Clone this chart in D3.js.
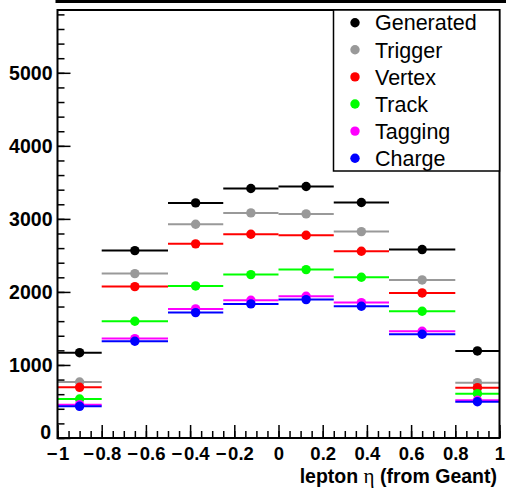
<!DOCTYPE html>
<html>
<head>
<meta charset="utf-8">
<script src="https://cdn.jsdelivr.net/npm/d3@7"></script>
<style>
  body { margin: 0; background: #fff; }
  svg { display: block; font-family: 'Liberation Sans', Arial, sans-serif; }
</style>
</head>
<body>
<svg id="chart" width="506" height="489"></svg>
<script>
// bin edges in lepton eta, and counts per bin for each selection step
const etaEdges = [-1, -0.8, -0.5, -0.25, 0, 0.25, 0.5, 0.8, 1]
const generated = [1168, 2566, 3219, 3416, 3443, 3224, 2580, 1192]
const trigger = [767, 2251, 2927, 3082, 3068, 2826, 2164, 758]
const vertex = [694, 2073, 2658, 2790, 2776, 2557, 1986, 689]
const track = [534, 1598, 2082, 2237, 2306, 2201, 1735, 607]
const tagging = [456, 1361, 1767, 1886, 1941, 1854, 1461, 516]
const charge = [434, 1324, 1717, 1836, 1895, 1804, 1420, 497]

const seriesNames = ['Generated', 'Trigger', 'Vertex', 'Track', 'Tagging', 'Charge']
const seriesColors = ['#000000', '#999999', '#ff0000', '#00ff00', '#ff00ff', '#0000ff']

const xTicks = [-1, -0.8, -0.6, -0.4, -0.2, 0, 0.2, 0.4, 0.6, 0.8, 1]
const yTicks = [0, 1000, 2000, 3000, 4000, 5000]

const series = [generated, trigger, vertex, track, tagging, charge]

const frame = { left: 57.5, right: 499.5, top: 10, bottom: 438 }

const x = d3.scaleLinear().domain([-1, 1]).range([frame.left, frame.right])
const y = d3.scaleLinear().domain([0, 5860]).range([frame.bottom, frame.top])

const svg = d3.select('#chart')

// bottom edge of the title box above the pad
svg
  .append('rect')
  .attr('x', 57)
  .attr('y', -40)
  .attr('width', 470)
  .attr('height', 41.5)
  .attr('fill', 'none')
  .attr('stroke', '#000')
  .attr('stroke-width', 3)

// histograms: horizontal bin-width bars plus markers at bin centre
series.forEach((vals, s) => {
  const g = svg.append('g')
  const bins = vals.map((v, i) => ({ lo: etaEdges[i], hi: etaEdges[i + 1], v }))
  g.selectAll('line')
    .data(bins)
    .join('line')
    .attr('x1', (d) => x(d.lo))
    .attr('x2', (d) => x(d.hi))
    .attr('y1', (d) => y(d.v))
    .attr('y2', (d) => y(d.v))
    .attr('stroke', seriesColors[s])
    .attr('stroke-width', 2)
  g.selectAll('circle')
    .data(bins)
    .join('circle')
    .attr('cx', (d) => x((d.lo + d.hi) / 2))
    .attr('cy', (d) => y(d.v))
    .attr('r', 4.7)
    .attr('fill', seriesColors[s])
})

// minor ticks
const xMinor = d3.range(0, 41).map((i) => -1 + i * 0.05)
const yMinor = d3.range(0, 30).map((i) => i * 200)

svg
  .append('g')
  .attr('transform', `translate(0,${frame.bottom})`)
  .call(d3.axisBottom(x).tickValues(xMinor).tickSize(-7).tickSizeOuter(0).tickFormat(''))
  .call((g) => g.select('.domain').remove())
  .selectAll('line')
  .attr('stroke-width', 1.5)

svg
  .append('g')
  .attr('transform', `translate(${frame.left},0)`)
  .call(d3.axisLeft(y).tickValues(yMinor).tickSize(-7).tickSizeOuter(0).tickFormat(''))
  .call((g) => g.select('.domain').remove())
  .selectAll('line')
  .attr('stroke-width', 1.5)

// major ticks + labels (ROOT style wide minus)
const fmtX = (d) => (d < 0 ? '\u2212\u200A' + d3.format('')(-d) : d3.format('')(d))
const xAxis = svg
  .append('g')
  .attr('transform', `translate(0,${frame.bottom})`)
  .call(d3.axisBottom(x).tickValues(xTicks).tickSize(-13).tickSizeOuter(0).tickPadding(8.5).tickFormat(fmtX))
xAxis.select('.domain').remove()
xAxis.selectAll('line').attr('stroke-width', 1.5)
xAxis.selectAll('text').attr('font-size', 18.5).attr('font-weight', 'bold').attr('fill', '#000')
  .attr('font-family', "'Liberation Sans', Arial, sans-serif")

const yAxis = svg
  .append('g')
  .attr('transform', `translate(${frame.left},0)`)
  .call(d3.axisLeft(y).tickValues(yTicks).tickSize(-13).tickSizeOuter(0).tickPadding(5).tickFormat(d3.format('')))
yAxis.select('.domain').remove()
yAxis.selectAll('line').attr('stroke-width', 1.5)
yAxis.selectAll('text').attr('font-size', 19.5).attr('font-weight', 'bold').attr('fill', '#000')
  .attr('font-family', "'Liberation Sans', Arial, sans-serif")
// the "0" sits just above the x-axis "-1" label
yAxis.selectAll('text').filter((d) => d === 0).attr('dy', '0.02em').attr('x', -6.5)

// frame
svg
  .append('rect')
  .attr('x', frame.left)
  .attr('y', frame.top)
  .attr('width', frame.right - frame.left)
  .attr('height', frame.bottom - frame.top)
  .attr('fill', 'none')
  .attr('stroke', '#000')
  .attr('stroke-width', 2)

// x axis title
const xTitle = svg
  .append('text')
  .attr('x', 497)
  .attr('y', 482.5)
  .attr('text-anchor', 'end')
  .attr('font-size', 19.5)
  .attr('font-weight', 'bold')
xTitle.append('tspan').text('lepton  ')
xTitle.append('tspan').attr('font-family', "'Liberation Serif', serif").attr('font-weight', 'normal').attr('font-size', 21).text('η')
xTitle.append('tspan').text(' (from Geant)')

// legend
const legend = svg.append('g')
legend
  .append('rect')
  .attr('x', 333.5)
  .attr('y', 10)
  .attr('width', 166)
  .attr('height', 161)
  .attr('fill', '#fff')
  .attr('stroke', '#000')
  .attr('stroke-width', 1.5)

seriesNames.forEach((name, i) => {
  const cy = 22.7 + i * 27.1
  legend.append('circle').attr('cx', 355).attr('cy', cy).attr('r', 4.7).attr('fill', seriesColors[i])
  legend
    .append('text')
    .attr('x', 375)
    .attr('y', cy)
    .attr('dy', '0.36em')
    .attr('font-size', 21.5)
    .text(name)
})
</script>
</body>
</html>
